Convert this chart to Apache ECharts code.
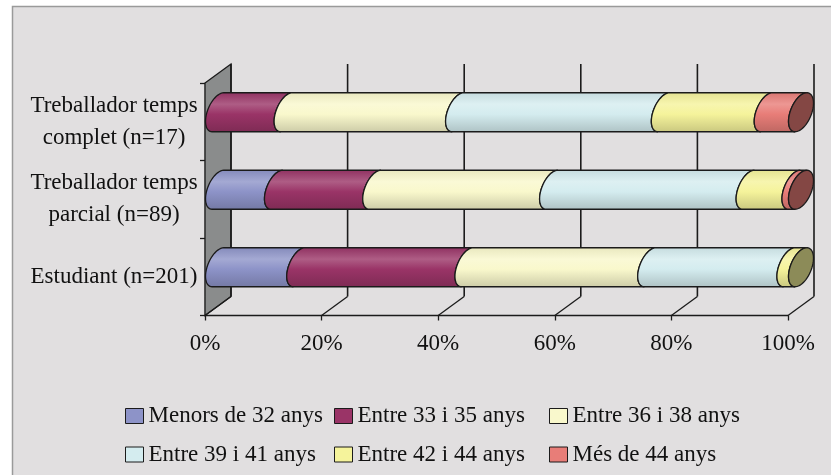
<!DOCTYPE html>
<html>
<head>
<meta charset="utf-8">
<script src="https://cdn.jsdelivr.net/npm/echarts@6/dist/echarts.min.js"></script>
<style>
  html, body { margin: 0; padding: 0; background: #ffffff; }
  #chart { width: 831px; height: 475px; }
</style>
</head>
<body>
<div id="chart"></div>
<script>
// Categories, bottom to top
const categories = ['Estudiant (n=201)', 'Treballador temps\nparcial (n=89)', 'Treballador temps\ncomplet (n=17)'];
const seriesNames = ['Menors de 32 anys', 'Entre 33 i 35 anys', 'Entre 36 i 38 anys',
                     'Entre 39 i 41 anys', 'Entre 42 i 44 anys', 'Més de 44 anys'];
// Respondents in each age group, same order as categories
const menors32   = [28, 9, 0];
const entre33_35 = [58, 15, 2];
const entre36_38 = [63, 27, 5];
const entre39_41 = [48, 30, 6];
const entre42_44 = [4, 7, 3];
const mes44      = [0, 1, 1];
const percentTicks = [0, 20, 40, 60, 80, 100];

const groups = [menors32, entre33_35, entre36_38, entre39_41, entre42_44, mes44];
const colors = ['#8d93c8', '#9a3467', '#f9f8cc', '#d4ecef', '#f5f39b', '#e87d78'];
const FONT = "'Liberation Serif', 'Times New Roman', serif";

// oblique depth of the 3D box and cylinder cross-section
const DX = 26, DY = -19;
const HALF_H = 19.5, A = 12.5, C = -9.1;
const B = Math.sqrt(HALF_H * HALF_H - C * C);
const T0 = Math.atan2(-C, B);

function ellPt(cx, cy, t) {
  return [cx + A * Math.sin(t), cy - B * Math.cos(t) + C * Math.sin(t)];
}
function arc(cx, cy, from, to, n) {
  const pts = [];
  for (let i = 0; i <= n; i++) pts.push(ellPt(cx, cy, from + (to - from) * i / n));
  return pts;
}
function shade(hex, k) {
  const n = parseInt(hex.slice(1), 16);
  const f = c => Math.max(0, Math.min(255, Math.round(c)));
  const r = (n >> 16) & 255, g = (n >> 8) & 255, b = n & 255;
  let rr, gg, bb;
  if (k >= 1) { const m = k - 1; rr = r + (255 - r) * m; gg = g + (255 - g) * m; bb = b + (255 - b) * m; }
  else { rr = r * k; gg = g * k; bb = b * k; }
  return 'rgb(' + f(rr) + ',' + f(gg) + ',' + f(bb) + ')';
}

// totals per category and the last non-empty group in each bar
const totals = categories.map((_, i) => groups.reduce((s, g) => s + g[i], 0));
const lastGroup = categories.map((_, i) => {
  let last = -1;
  groups.forEach((g, k) => { if (g[i] > 0) last = k; });
  return last;
});

// stacked [category, start%, end%, isLast] per group
const stacked = groups.map((g, k) => categories.map((_, i) => {
  let start = 0;
  for (let j = 0; j < k; j++) start += groups[j][i];
  return [i, start / totals[i] * 100, (start + g[i]) / totals[i] * 100, lastGroup[i] === k ? 1 : 0];
}));

function cylinderItem(k) {
  return function (params, api) {
    const cat = api.value(0), s = api.value(1), e = api.value(2), isLast = api.value(3);
    if (e - s <= 0) return null;
    const p0 = api.coord([s, cat]);
    const p1 = api.coord([e, cat]);
    const cs = p0[0] + DX / 2, ce = p1[0] + DX / 2, cy = p0[1] + DY / 2;
    const pts = arc(cs, cy, T0 - Math.PI, T0, 24).concat(arc(ce, cy, T0, T0 - Math.PI, 24));
    const base = colors[k];
    const children = [{
      type: 'polygon',
      shape: { points: pts },
      style: {
        fill: {
          type: 'linear', x: 0, y: 0, x2: 0, y2: 1,
          colorStops: [
            { offset: 0, color: shade(base, 0.93) },
            { offset: 0.3, color: shade(base, 1.2) },
            { offset: 0.55, color: base },
            { offset: 1, color: shade(base, 0.82) }
          ]
        },
        stroke: '#1b1b1b', lineWidth: 1.3
      }
    }];
    if (isLast) {
      children.push({
        type: 'polygon',
        shape: { points: arc(ce, cy, 0, Math.PI * 2, 60) },
        style: { fill: shade(base, 0.57), stroke: '#1b1b1b', lineWidth: 1.3 }
      });
    }
    return { type: 'group', children: children };
  };
}

function frameItem(params, api) {
  const v = api.value(0);
  const p = api.coord([v, 0]);
  const cs = params.coordSys;
  const top = cs.y, bottom = cs.y + cs.height, x = p[0];
  const children = [];
  if (v === 0) {
    children.push({
      type: 'polygon',
      shape: { points: [[x, top], [x + DX, top + DY], [x + DX, bottom + DY], [x, bottom]] },
      style: { fill: '#8a8c8c', stroke: '#1b1b1b', lineWidth: 1.3 }
    });
  }
  children.push({
    type: 'line',
    shape: { x1: x + DX, y1: top + DY, x2: x + DX, y2: bottom + DY },
    style: { stroke: '#1b1b1b', lineWidth: 1.6 }
  });
  children.push({
    type: 'line',
    shape: { x1: x, y1: bottom, x2: x + DX, y2: bottom + DY },
    style: { stroke: '#1b1b1b', lineWidth: 1.3 }
  });
  return { type: 'group', children: children };
}

const chart = echarts.init(document.getElementById('chart'), null, { renderer: 'canvas' });

const legendBase = {
  orient: 'vertical', top: 399, itemWidth: 18, itemHeight: 15, itemGap: 14.5,
  icon: 'rect', selectedMode: false,
  itemStyle: { borderColor: '#1b1b1b', borderWidth: 1 },
  textStyle: { fontFamily: FONT, fontSize: 23, color: '#111', lineHeight: 24, padding: [0, 0, 0, 0] }
};

const series = [{
  type: 'custom',
  name: 'frame',
  z: 1,
  clip: false,
  silent: true,
  renderItem: frameItem,
  encode: { x: 0, y: 1 },
  data: percentTicks.map(v => [v, 0])
}].concat(groups.map((g, k) => ({
  type: 'custom',
  name: seriesNames[k],
  z: 3,
  clip: false,
  itemStyle: { color: colors[k] },
  renderItem: cylinderItem(k),
  encode: { x: [1, 2], y: 0 },
  data: stacked[k]
})));

chart.setOption({
  animation: false,
  backgroundColor: '#ffffff',
  graphic: [{
    type: 'rect', z: -100, silent: true,
    shape: { x: 12.5, y: 6.5, width: 840, height: 480 },
    style: { fill: '#e1dfe0', stroke: '#9a9a9a', lineWidth: 1.5 }
  }],
  grid: { left: 205, top: 83, width: 583, height: 232.5, containLabel: false },
  xAxis: {
    type: 'value', min: 0, max: 100, interval: 20,
    axisLine: { show: true, lineStyle: { color: '#1b1b1b', width: 1.4 } },
    axisTick: { show: true, length: 5, lineStyle: { color: '#1b1b1b', width: 1.3 } },
    splitLine: { show: false },
    axisLabel: { formatter: '{value}%', fontFamily: FONT, fontSize: 23, color: '#111', margin: 17 }
  },
  yAxis: {
    type: 'category', data: categories,
    axisLine: { show: true, lineStyle: { color: '#1b1b1b', width: 1.4 } },
    axisTick: { show: true, length: 5, lineStyle: { color: '#1b1b1b', width: 1.3 } },
    axisLabel: { fontFamily: FONT, fontSize: 23, color: '#111', margin: 91, lineHeight: 32, align: 'center' }
  },
  legend: [
    Object.assign({}, legendBase, { left: 120, data: [seriesNames[0], seriesNames[3]] }),
    Object.assign({}, legendBase, { left: 329, data: [seriesNames[1], seriesNames[4]] }),
    Object.assign({}, legendBase, { left: 544, data: [seriesNames[2], seriesNames[5]] })
  ],
  series: series
});
</script>
</body>
</html>
